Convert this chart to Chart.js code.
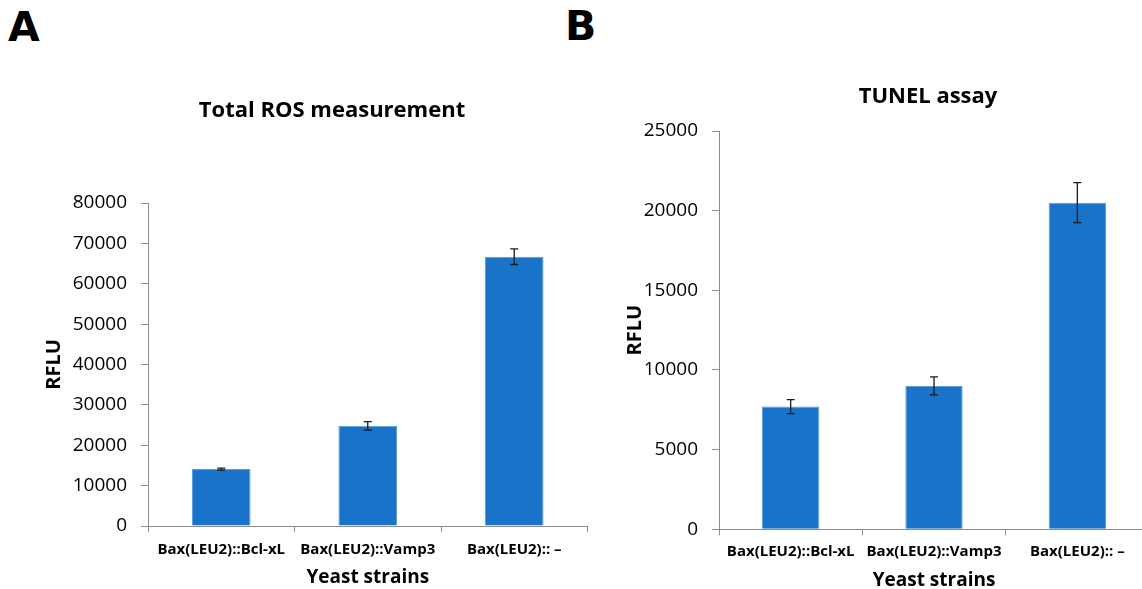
<!DOCTYPE html>
<html>
<head>
<meta charset="utf-8">
<script src="https://cdn.jsdelivr.net/npm/chart.js@4.4.1/dist/chart.umd.min.js"></script>
<style>
  html, body { margin: 0; padding: 0; background: #fff; width: 1142px; height: 589px; overflow: hidden; position: relative; }
  canvas { position: absolute; }
  .panel { position: absolute; font-family: "DejaVu Sans", sans-serif; font-weight: bold; font-size: 41px; line-height: 41px; color: #000; }
</style>
</head>
<body>
<div class="panel" style="left:8px; top:7px;">A</div>
<div class="panel" style="left:565px; top:6px;">B</div>
<canvas id="chartA" width="664" height="589" style="left:0px; top:0px;"></canvas>
<canvas id="chartB" width="696" height="589" style="left:580px; top:3px;"></canvas>
<script>
// ---- data ----
const categories = ['Bax(LEU2)::Bcl-xL', 'Bax(LEU2)::Vamp3', 'Bax(LEU2):: \u2013'];
const rosValues = [14100, 24800, 66700];
const rosErrors = [250, 1070, 1930];
const tunelValues = [7700, 9000, 20500];
const tunelErrors = [440, 565, 1255];
const rosTicks = [0, 10000, 20000, 30000, 40000, 50000, 60000, 70000, 80000];
const tunelTicks = [0, 5000, 10000, 15000, 20000, 25000];

const FONT = '"Open Sans", "Noto Sans", sans-serif';
const AXIS_GRAY = '#8c8c8c';
const BAR_BLUE = '#1873c9';

const errorBarPlugin = {
  id: 'errorBars',
  afterDatasetsDraw(chart) {
    const ctx = chart.ctx;
    const yScale = chart.scales.y;
    chart.data.datasets.forEach((ds, di) => {
      const meta = chart.getDatasetMeta(di);
      const errs = ds.errors || [];
      meta.data.forEach((bar, i) => {
        const v = ds.data[i], e = errs[i];
        if (e == null) return;
        const x = bar.x;
        const yt = yScale.getPixelForValue(v + e);
        const yb = yScale.getPixelForValue(v - e);
        ctx.save();
        ctx.strokeStyle = '#1a1a1a';
        ctx.lineWidth = 1.3;
        ctx.beginPath();
        ctx.moveTo(x, yt); ctx.lineTo(x, yb);
        ctx.moveTo(x - 4, yt); ctx.lineTo(x + 4, yt);
        ctx.moveTo(x - 4, yb); ctx.lineTo(x + 4, yb);
        ctx.stroke();
        ctx.restore();
      });
    });
  }
};

function makeChart(id, cfg) {
  return new Chart(document.getElementById(id), {
    type: 'bar',
    data: {
      labels: categories,
      datasets: [{
        data: cfg.values,
        errors: cfg.errors,
        backgroundColor: BAR_BLUE,
        borderColor: '#5c9ddb',
        borderWidth: 1,
        categoryPercentage: 1.0,
        barPercentage: 0.4
      }]
    },
    options: {
      responsive: false,
      animation: false,
      devicePixelRatio: 1,
      layout: { padding: 0 },
      plugins: {
        legend: { display: false },
        tooltip: { enabled: false },
        title: {
          display: true,
          text: cfg.title,
          color: '#000',
          font: { family: FONT, size: 22, weight: 'bold', lineHeight: 1.2 },
          padding: { top: cfg.titleTop, bottom: cfg.titleBottom }
        }
      },
      scales: {
        x: {
          offset: true,
          grid: { display: true, offset: true, drawOnChartArea: false, drawTicks: true, tickLength: 6, color: AXIS_GRAY, lineWidth: 1 },
          border: { display: true, color: AXIS_GRAY, width: 1 },
          ticks: { autoSkip: false, maxRotation: 0, minRotation: 0, padding: cfg.xTickPad, color: '#000',
                   font: { family: FONT, size: 15, weight: 'bold', lineHeight: 1.2 } },
          title: { display: true, text: 'Yeast strains', color: '#000',
                   font: { family: FONT, size: 19, weight: 'bold', lineHeight: 1 },
                   padding: { top: 0, bottom: 2 } },
          afterFit: s => { s.height = cfg.xHeight; }
        },
        y: {
          min: 0,
          max: cfg.ticks[cfg.ticks.length - 1],
          afterBuildTicks: s => { s.ticks = cfg.ticks.map(v => ({ value: v })); },
          grid: { display: true, drawOnChartArea: false, drawTicks: true, tickLength: 7, color: AXIS_GRAY, lineWidth: 1 },
          border: { display: true, color: AXIS_GRAY, width: 1 },
          ticks: { padding: 14, color: '#000', font: { family: FONT, size: 19 },
                   callback: v => String(v) },
          title: { display: true, text: 'RFLU', color: '#000',
                   font: { family: FONT, size: 20, weight: 'bold', lineHeight: 1.2 },
                   padding: { top: cfg.yTitlePad, bottom: 0 } },
          afterFit: s => { s.width = cfg.yWidth; }
        },
        spacer: {
          type: 'linear',
          position: 'right',
          display: true,
          grid: { display: false, drawTicks: false },
          border: { display: false },
          ticks: { display: false },
          afterFit: s => { s.width = cfg.rightSpace; }
        }
      }
    },
    plugins: [errorBarPlugin]
  });
}

makeChart('chartA', {
  values: rosValues, errors: rosErrors, ticks: rosTicks,
  title: 'Total ROS measurement',
  rightSpace: 76.5, titleTop: 97.3, titleBottom: 79.3,
  xHeight: 63, xTickPad: 9, yWidth: 148, yTitlePad: 42
});

makeChart('chartB', {
  values: tunelValues, errors: tunelErrors, ticks: tunelTicks,
  title: 'TUNEL assay',
  rightSpace: 127, titleTop: 80.3, titleBottom: 21.3,
  xHeight: 62.7, xTickPad: 7.5, yWidth: 139, yTitlePad: 43.5
});
</script>
</body>
</html>
